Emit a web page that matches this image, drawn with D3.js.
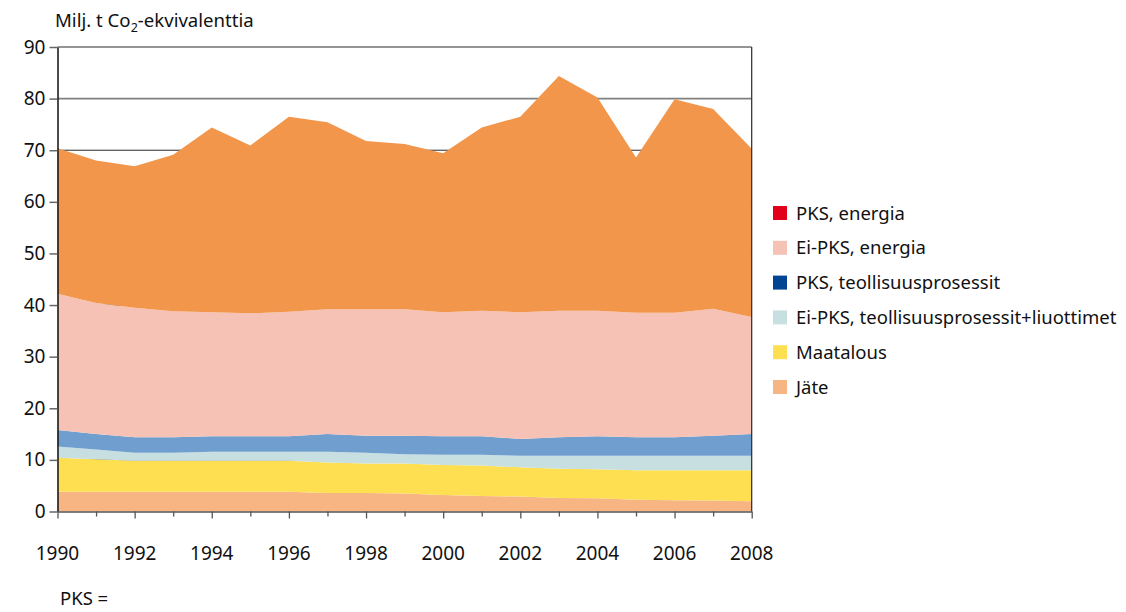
<!DOCTYPE html>
<html>
<head>
<meta charset="utf-8">
<script src="https://cdn.jsdelivr.net/npm/d3@7"></script>
<style>
  body { margin: 0; background: #fff; }
  text { font-family: "Noto Sans", "Open Sans", sans-serif; fill: #111; }
</style>
</head>
<body>
<svg id="chart" width="1126" height="612"></svg>
<script>
// years on the x axis
var years = d3.range(1990, 2009);

// series values, milj. t CO2-ekv
var jate        = [3.85,3.85,3.85,3.85,3.85,3.85,3.85,3.6,3.6,3.5,3.2,3.0,2.9,2.6,2.55,2.3,2.2,2.15,2.0];
var maatalous   = [6.55,6.25,6.0,6.0,6.0,6.0,6.0,5.9,5.7,5.8,5.8,5.9,5.65,5.7,5.65,5.7,5.8,5.85,6.0];
var eiPksTeoll  = [2.2,1.9,1.55,1.55,1.75,1.75,1.75,2.1,2.1,1.8,2.0,2.1,2.25,2.5,2.6,2.8,2.8,2.8,2.8];
var pksTeoll    = [3.2,3.0,3.0,3.0,3.0,3.0,3.0,3.4,3.3,3.6,3.6,3.6,3.25,3.6,3.8,3.6,3.6,3.9,4.2];
var eiPksEnergia= [26.4,25.4,25.1,24.4,24.0,23.8,24.1,24.2,24.5,24.5,24.0,24.3,24.55,24.5,24.3,24.1,24.1,24.6,22.7];
var pksEnergia  = [28.2,27.6,27.4,30.3,35.8,32.5,37.8,36.2,32.6,32.0,30.8,35.5,37.9,45.5,41.3,30.1,41.4,38.7,32.6];

// series names, stacking order bottom -> top
var keys = ["Jäte", "Maatalous", "Ei-PKS, teollisuusprosessit+liuottimet",
            "PKS, teollisuusprosessit", "Ei-PKS, energia", "PKS, energia"];
var seriesValues = [jate, maatalous, eiPksTeoll, pksTeoll, eiPksEnergia, pksEnergia];

// fill of the areas, and the (differing) swatch colour in the legend
var areaColors   = ["#f7b584", "#ffdf52", "#c7dfe1", "#6f9ecf", "#f6c2b5", "#f1964a"];
var legendColors = ["#f7b584", "#ffdf52", "#c7dfe1", "#004494", "#f6c2b5", "#e2001a"];

var yTicks = d3.range(0, 100, 10);
var xLabelYears = d3.range(1990, 2009, 2);

// build rows for d3.stack
var table = years.map(function(yr, i) {
  var row = { year: yr };
  keys.forEach(function(k, j) { row[k] = seriesValues[j][i]; });
  return row;
});

var svg = d3.select("#chart");

var x = d3.scaleLinear().domain([1990, 2008]).range([57.5, 751.7]);
var y = d3.scaleLinear().domain([0, 90]).range([511.5, 47]);

// gridlines behind the areas
svg.append("g")
  .selectAll("line")
  .data(yTicks.filter(function(d){ return d > 0; }))
  .enter().append("line")
  .attr("x1", x(1990)).attr("x2", x(2008))
  .attr("y1", function(d){ return y(d); })
  .attr("y2", function(d){ return y(d); })
  .attr("stroke", function(d){ return d == 80 ? "#808080" : "#2a2a2a"; })
  .attr("stroke-width", function(d){ return d == 80 ? 1.6 : 1; });

var stack = d3.stack().keys(keys);
var layers = stack(table);

var area = d3.area()
  .x(function(d){ return x(d.data.year); })
  .y0(function(d){ return y(d[0]); })
  .y1(function(d){ return y(d[1]); });

svg.append("g")
  .selectAll("path")
  .data(layers)
  .enter().append("path")
  .attr("d", area)
  .attr("fill", function(d, i){ return areaColors[i]; });

// right border of the plot
svg.append("line")
  .attr("x1", x(2008)).attr("x2", x(2008))
  .attr("y1", y(90)).attr("y2", y(0))
  .attr("stroke", "#2a2a2a").attr("stroke-width", 1.2);

// y axis
var yAxis = svg.append("g")
  .attr("transform", "translate(" + x(1990) + ",0)")
  .call(d3.axisLeft(y).tickValues(yTicks).tickSize(8).tickPadding(4).tickSizeOuter(0));
yAxis.select(".domain").attr("stroke", "#111").attr("stroke-width", 1.5);
yAxis.selectAll(".tick line").attr("stroke", "#666").attr("stroke-width", 1.5);
yAxis.selectAll(".tick text")
  .attr("font-size", 19).attr("font-family", null).attr("fill", "#111");

// x axis: minor tick every year, labels every 2 years
var xAxis = svg.append("g")
  .attr("transform", "translate(0," + y(0) + ")")
  .call(d3.axisBottom(x).tickValues(years).tickSize(5).tickSizeOuter(0).tickFormat(""));
xAxis.select(".domain").attr("stroke", "#555").attr("stroke-width", 1.5);
xAxis.selectAll(".tick line").attr("stroke", "#555").attr("stroke-width", 1.3)
  .attr("y2", function(d){ return d % 2 == 0 ? 7 : 5; });

svg.append("g")
  .selectAll("text")
  .data(xLabelYears)
  .enter().append("text")
  .attr("x", function(d){ return x(d); })
  .attr("y", 560)
  .attr("text-anchor", "middle")
  .attr("font-size", 19)
  .text(function(d){ return d; });

// unit title with subscript
var title = svg.append("text").attr("x", 55).attr("y", 27).attr("font-size", 18.6);
title.append("tspan").text("Milj. t Co");
title.append("tspan").attr("font-size", 12.5).attr("dy", 5).text("2");
title.append("tspan").attr("dy", -5).text("-ekvivalenttia");

// legend, top entry first
var legendOrder = d3.range(keys.length).reverse();
var legend = svg.append("g")
  .selectAll("g")
  .data(legendOrder)
  .enter().append("g")
  .attr("transform", function(d, i){ return "translate(773," + (206 + i * 34.8) + ")"; });

legend.append("rect")
  .attr("width", 14).attr("height", 14)
  .attr("fill", function(d){ return legendColors[d]; });

legend.append("text")
  .attr("x", 23).attr("y", 13.5)
  .attr("font-size", 18.5)
  .text(function(d){ return keys[d]; });

svg.append("text")
  .attr("x", 60).attr("y", 605)
  .attr("font-size", 18.5)
  .text("PKS =");
</script>
</body>
</html>
